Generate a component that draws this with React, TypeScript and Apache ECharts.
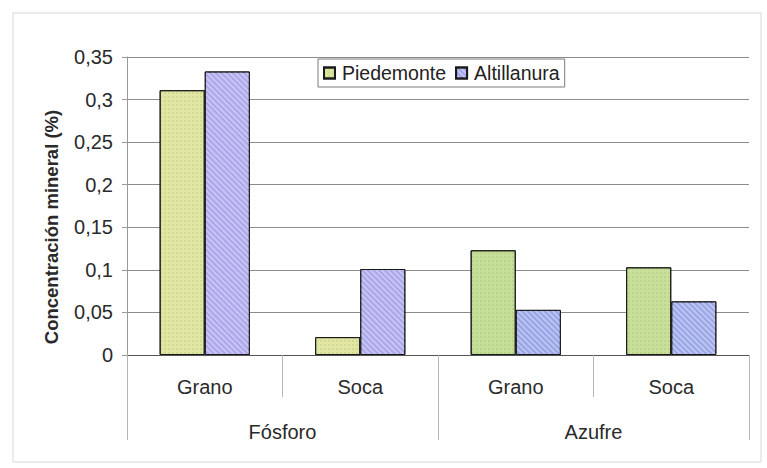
import React, { useEffect, useRef } from "react";
import * as echarts from "echarts";

const subCategories = ["Grano", "Soca", "Grano", "Soca"];
const groups = ["Fósforo", "Azufre"];
const seriesNames = ["Piedemonte", "Altillanura"];
const piedemonte = [0.311, 0.021, 0.123, 0.103];
const altillanura = [0.333, 0.101, 0.053, 0.063];
const yTicks = { min: 0, max: 0.35, interval: 0.05 };

const pieColors = ["#e1e7a3", "#e1e7a3", "#c6df98", "#c9e09b"];
const altColors = ["#aca6ec", "#a9a6ea", "#97a5e8", "#99a6e8"];

const FONT = "'Liberation Sans', Arial, sans-serif";

export default function App() {
  const ref = useRef<HTMLDivElement>(null);
  useEffect(() => {
    if (!ref.current) return;
    const chart = echarts.init(ref.current, undefined, { renderer: "svg" });
    const dots = {
      symbol: "circle",
      symbolSize: 0.7,
      dashArrayX: [2, 2],
      dashArrayY: [2, 2],
      color: "rgba(110,140,60,0.35)",
    };
    const hatch = {
      symbol: "rect",
      symbolSize: 1,
      dashArrayX: [[1, 0]],
      dashArrayY: [2, 2],
      rotation: Math.PI / 4,
      color: "rgba(255,255,255,0.35)",
    };
    chart.setOption({
      animation: false,
      backgroundColor: "#ffffff",
      textStyle: { fontFamily: FONT },
      grid: { left: 127, right: 18, top: 57, bottom: 113, containLabel: false },
      legend: {
        left: 318,
        top: 59,
        orient: "horizontal",
        backgroundColor: "#ffffff",
        borderColor: "#7a7a7a",
        borderWidth: 1,
        padding: [4, 5, 4, 5],
        itemWidth: 11,
        itemHeight: 11,
        itemGap: 9,
        icon: "rect",
        textStyle: { fontSize: 19.5, color: "#222", fontFamily: FONT, padding: [0, 0, 0, 2] },
        data: seriesNames,
      },
      xAxis: [
        {
          type: "category",
          data: subCategories,
          position: "bottom",
          axisLine: { show: true, lineStyle: { color: "#555", width: 1 } },
          axisTick: { show: true, interval: 0, length: 42, lineStyle: { color: "#b5b5b5" } },
          axisLabel: { interval: 0, margin: 22, fontSize: 20, color: "#2a2a2a", fontFamily: FONT },
        },
        {
          type: "category",
          data: groups,
          position: "bottom",
          axisLine: { show: false },
          axisTick: { show: true, interval: 0, length: 85, lineStyle: { color: "#b5b5b5" } },
          axisLabel: { interval: 0, margin: 67, fontSize: 20, color: "#2a2a2a", fontFamily: FONT },
        },
      ],
      yAxis: {
        type: "value",
        min: yTicks.min,
        max: yTicks.max,
        interval: yTicks.interval,
        axisLine: { show: true, lineStyle: { color: "#9a9a9a" } },
        axisTick: { show: true, length: 5, lineStyle: { color: "#9a9a9a" } },
        axisLabel: {
          margin: 14,
          fontSize: 20,
          color: "#2a2a2a",
          fontFamily: FONT,
          formatter: (v: number) => String(Number(v.toFixed(2))).replace(".", ","),
        },
        splitLine: { show: true, lineStyle: { color: "#8c8c8c", width: 1 } },
      },
      graphic: [
        {
          type: "rect",
          shape: { x: 13, y: 13, width: 748, height: 449 },
          style: { fill: "none", stroke: "#d8d8d8", lineWidth: 1 },
          silent: true,
          z: -1,
        },
        {
          type: "text",
          x: 51,
          y: 227,
          rotation: Math.PI / 2,
          style: {
            text: "Concentración mineral (%)",
            fontSize: 18.5,
            fontWeight: "bold",
            fontFamily: FONT,
            fill: "#2a2a2a",
            align: "center",
            verticalAlign: "middle",
          },
        },
      ],
      series: [
        {
          name: seriesNames[0],
          type: "bar",
          xAxisIndex: 0,
          barGap: "0%",
          barCategoryGap: "42%",
          itemStyle: { color: "#d9e59f", borderColor: "#1a1a1a", borderWidth: 1, decal: dots },
          data: piedemonte.map((v, i) => ({ value: v, itemStyle: { color: pieColors[i] } })),
        },
        {
          name: seriesNames[1],
          type: "bar",
          xAxisIndex: 0,
          barGap: "0%",
          barCategoryGap: "42%",
          itemStyle: { color: "#a2a6ea", borderColor: "#1a1a1a", borderWidth: 1, decal: hatch },
          data: altillanura.map((v, i) => ({ value: v, itemStyle: { color: altColors[i] } })),
        },
      ],
    });
    return () => chart.dispose();
  }, []);
  return <div ref={ref} style={{ position: "fixed", left: 0, top: 0, width: 767, height: 468 }} />;
}
